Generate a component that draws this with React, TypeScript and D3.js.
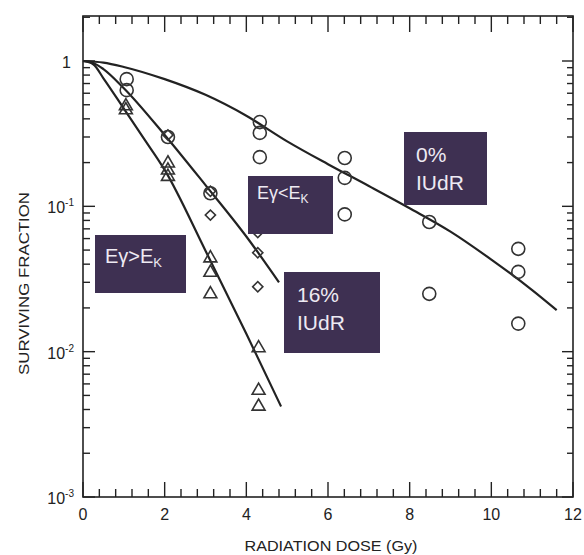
import * as d3 from "d3"

const W = 584
const H = 555
const margin = { top: 16, right: 11, bottom: 58, left: 83 }

// fitted survival curves
const curveDose0 = [0, 0.5, 1, 2, 3, 4, 5, 6, 7, 8, 9, 10, 11, 11.6]
const curveSf0 = [1, 0.975, 0.91, 0.75, 0.585, 0.42, 0.28, 0.195, 0.138, 0.097, 0.067, 0.043, 0.0265, 0.0193]

const curveDoseLow = [0, 0.25, 0.5, 1, 2, 3, 4, 4.8]
const curveSfLow = [1, 0.97, 0.88, 0.65, 0.31, 0.14, 0.062, 0.03]

const curveDoseHigh = [0, 0.25, 0.5, 1, 1.5, 2, 3, 4, 4.85]
const curveSfHigh = [1, 0.95, 0.76, 0.47, 0.29, 0.178, 0.0495, 0.0133, 0.0042]

// measured points
const circleDose = [1.07, 4.33, 4.33, 4.33, 6.41, 6.41, 6.41, 8.48, 8.48, 10.66, 10.66, 10.66, 1.07, 2.08, 3.12]
const circleSf = [0.75, 0.38, 0.32, 0.218, 0.215, 0.157, 0.088, 0.078, 0.025, 0.051, 0.0354, 0.0156, 0.63, 0.3, 0.123]

const diamondDose = [2.08, 3.12, 3.12, 4.28, 4.28, 4.28]
const diamondSf = [0.31, 0.127, 0.087, 0.066, 0.048, 0.028]

const triangleDose = [1.05, 1.05, 2.08, 2.08, 2.08, 3.12, 3.12, 3.12, 4.3, 4.3, 4.3]
const triangleSf = [0.49, 0.46, 0.198, 0.177, 0.16, 0.044, 0.035, 0.0249, 0.0106, 0.0054, 0.0042]

const xMajorTicks = [0, 2, 4, 6, 8, 10, 12]
const yDecades = [1, 0.1, 0.01, 0.001]
const yExponents = ["", "-1", "-2", "-3"]

const ink = "#222"
const boxFill = "#3e3052"
const boxText = "#eeeaf3"
const axisFont = "'Liberation Sans', Arial, sans-serif"

export default function App() {
  const x = d3.scaleLinear().domain([0, 12]).range([margin.left, W - margin.right])
  const y = d3.scaleLog().domain([0.001, 2.04]).range([H - margin.bottom, margin.top])

  const x0 = margin.left
  const x1 = W - margin.right
  const y0 = H - margin.bottom
  const y1 = margin.top

  const line = d3
    .line<[number, number]>()
    .x((d) => x(d[0]))
    .y((d) => y(d[1]))
    .curve(d3.curveMonotoneX)

  const curves = [
    curveDose0.map((d, i) => [d, curveSf0[i]] as [number, number]),
    curveDoseLow.map((d, i) => [d, curveSfLow[i]] as [number, number]),
    curveDoseHigh.map((d, i) => [d, curveSfHigh[i]] as [number, number]),
  ]

  const xMinor = d3.range(0, 12.001, 0.4).filter((v) => Math.abs(v / 2 - Math.round(v / 2)) > 0.01)
  const yMinor: number[] = []
  yDecades.slice(1).forEach((dec) => {
    for (let k = 2; k <= 9; k++) yMinor.push(dec * k)
  })
  yMinor.push(2)

  const circle = d3.symbol(d3.symbolCircle, 133)()
  const tri = d3.symbol(d3.symbolTriangle, 72)()
  const square = d3.symbol(d3.symbolSquare, 52)()

  return (
    <svg width={W} height={H} style={{ position: "absolute", left: 0, top: 0, background: "#fff" }}>
      {/* ticks */}
      <g stroke={ink} strokeWidth={1.4}>
        {xMajorTicks.map((t) => (
          <g key={"xM" + t}>
            <line x1={x(t)} x2={x(t)} y1={y0} y2={y0 - 15} />
            <line x1={x(t)} x2={x(t)} y1={y1} y2={y1 + 16} />
          </g>
        ))}
        {xMinor.map((t) => (
          <g key={"xm" + t}>
            <line x1={x(t)} x2={x(t)} y1={y0} y2={y0 - 8} />
            <line x1={x(t)} x2={x(t)} y1={y1} y2={y1 + 8} />
          </g>
        ))}
        {yDecades.map((t) => (
          <g key={"yM" + t}>
            <line x1={x0} x2={x0 + 12} y1={y(t)} y2={y(t)} />
            <line x1={x1} x2={x1 - 11} y1={y(t)} y2={y(t)} />
          </g>
        ))}
        {yMinor.map((t) => (
          <g key={"ym" + t}>
            <line x1={x0} x2={x0 + 7} y1={y(t)} y2={y(t)} />
            <line x1={x1} x2={x1 - 6} y1={y(t)} y2={y(t)} />
          </g>
        ))}
      </g>
      <rect x={x0} y={y1} width={x1 - x0} height={y0 - y1} fill="none" stroke={ink} strokeWidth={1.6} />

      {/* tick labels */}
      <g fontFamily={axisFont} fill={ink}>
        {xMajorTicks.map((t) => (
          <text key={"xl" + t} x={x(t)} y={y0 + 23} fontSize={16} textAnchor="middle">
            {t}
          </text>
        ))}
        {yDecades.map((t, i) =>
          i === 0 ? (
            <text key={"yl" + t} x={71} y={y(t) + 7} fontSize={16} textAnchor="end">
              1
            </text>
          ) : (
            <text key={"yl" + t} x={74} y={y(t) + 7} fontSize={16} textAnchor="end">
              10
              <tspan fontSize={10} dy={-7}>
                {yExponents[i]}
              </tspan>
            </text>
          ),
        )}
        <text
          transform={`translate(29,${(y0 + y1) / 2 + 27}) rotate(-90)`}
          fontSize={15}
          textLength={183}
          lengthAdjust="spacingAndGlyphs"
          textAnchor="middle"
        >
          SURVIVING  FRACTION
        </text>
        <text
          x={x(6) + 3}
          y={551}
          fontSize={15}
          textLength={173}
          lengthAdjust="spacingAndGlyphs"
          textAnchor="middle"
        >
          RADIATION  DOSE  (Gy)
        </text>
      </g>

      {/* curves */}
      {curves.map((c, i) => (
        <path key={"c" + i} d={line(c) || ""} fill="none" stroke={ink} strokeWidth={2.2} />
      ))}

      {/* markers */}
      <g fill="none" stroke="#333" strokeWidth={1.6}>
        {circleDose.map((d, i) => (
          <path key={"o" + i} d={circle || ""} transform={`translate(${x(d)},${y(circleSf[i])})`} />
        ))}
        {diamondDose.map((d, i) => (
          <path key={"d" + i} d={square || ""} transform={`translate(${x(d)},${y(diamondSf[i])}) rotate(45)`} />
        ))}
        {triangleDose.map((d, i) => (
          <path key={"t" + i} d={tri || ""} transform={`translate(${x(d)},${y(triangleSf[i])})`} />
        ))}
      </g>

      {/* annotation boxes */}
      <g fontFamily={axisFont} fill={boxText}>
        <rect x={404} y={132} width={83} height={73} fill={boxFill} />
        <text x={416} y={162} fontSize={21}>0%</text>
        <text x={416} y={190} fontSize={21}>IUdR</text>

        <rect x={284} y={272} width={96} height={81} fill={boxFill} />
        <text x={297} y={302} fontSize={21}>16%</text>
        <text x={297} y={330} fontSize={21}>IUdR</text>

        <rect x={248} y={176} width={85} height={58} fill={boxFill} />
        <text x={257} y={199} fontSize={18}>
          Eγ&lt;E<tspan fontSize={12} dy={4}>K</tspan>
        </text>

        <rect x={95} y={235} width={91} height={58} fill={boxFill} />
        <text x={105} y={263} fontSize={20}>
          Eγ&gt;E<tspan fontSize={13} dy={4}>K</tspan>
        </text>
      </g>
    </svg>
  )
}
